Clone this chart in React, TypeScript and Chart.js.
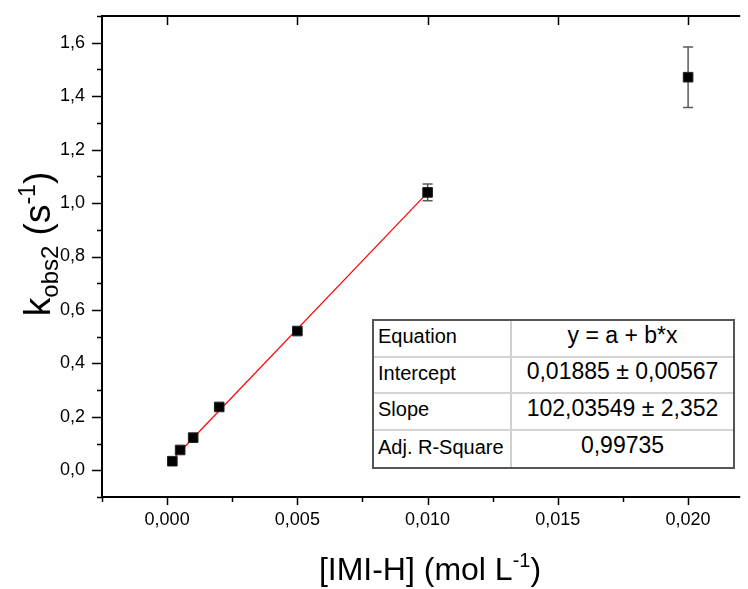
import React, { useEffect, useRef } from 'react';
import { Chart, registerables } from 'chart.js';

Chart.register(...registerables);

// ---- data ----
const concentrations = [0.0002, 0.0005, 0.001, 0.002, 0.005, 0.01, 0.02];
const kObs2 = [0.034, 0.076, 0.122, 0.237, 0.521, 1.04, 1.471];
const kObs2Err = [0, 0, 0, 0, 0, 0.031, 0.113];
const fitIntercept = 0.01885;
const fitSlope = 102.03549;
const fitRange = [0.0002, 0.01];

const xMajorTicks = [0, 0.005, 0.01, 0.015, 0.02];
const xMinorTicks = [-0.0025, 0.0025, 0.0075, 0.0125, 0.0175];
const yMajorTicks = [0, 0.2, 0.4, 0.6, 0.8, 1.0, 1.2, 1.4, 1.6];
const yMinorTicks = [-0.1, 0.1, 0.3, 0.5, 0.7, 0.9, 1.1, 1.3, 1.5, 1.7];

const tableLabels = ['Equation', 'Intercept', 'Slope', 'Adj. R-Square'];
const tableValues = ['y = a + b*x', '0,01885 ± 0,00567', '102,03549 ± 2,352', '0,99735'];

const FONT = "'Liberation Sans', Arial, sans-serif";

type Part = { text: string; size: number; dy: number };

function drawRich(ctx: CanvasRenderingContext2D, parts: Part[], cx: number, baseY: number) {
  let total = 0;
  const widths = parts.map((p) => {
    ctx.font = `${p.size}px ${FONT}`;
    const w = ctx.measureText(p.text).width;
    total += w;
    return w;
  });
  let x = cx - total / 2;
  ctx.textAlign = 'left';
  ctx.textBaseline = 'alphabetic';
  parts.forEach((p, i) => {
    ctx.font = `${p.size}px ${FONT}`;
    ctx.fillText(p.text, x, baseY + p.dy);
    x += widths[i];
  });
}

const framePlugin = {
  id: 'frame',
  beforeDatasetsDraw(chart: any) {
    const ctx = chart.ctx as CanvasRenderingContext2D;
    const xs = chart.scales.x;
    const ys = chart.scales.y;
    ctx.save();
    ctx.strokeStyle = '#5a5a5a';
    ctx.lineWidth = 1.5;
    concentrations.forEach((c, i) => {
      const e = kObs2Err[i];
      if (!e) return;
      const px = xs.getPixelForValue(c);
      const top = ys.getPixelForValue(kObs2[i] + e);
      const bot = ys.getPixelForValue(kObs2[i] - e);
      ctx.beginPath();
      ctx.moveTo(px, top);
      ctx.lineTo(px, bot);
      ctx.moveTo(px - 5, top);
      ctx.lineTo(px + 5, top);
      ctx.moveTo(px - 5, bot);
      ctx.lineTo(px + 5, bot);
      ctx.stroke();
    });
    ctx.restore();
  },
  afterDraw(chart: any) {
    const ctx = chart.ctx as CanvasRenderingContext2D;
    const { left, right, top, bottom } = chart.chartArea;
    const xs = chart.scales.x;
    const ys = chart.scales.y;
    ctx.save();
    ctx.strokeStyle = '#000';
    ctx.lineWidth = 2;
    ctx.lineCap = 'butt';
    // axis lines
    ctx.beginPath();
    ctx.moveTo(left, top - 1);
    ctx.lineTo(left, bottom + 1);
    ctx.moveTo(left - 1, bottom);
    ctx.lineTo(right, bottom);
    ctx.moveTo(left - 1, top);
    ctx.lineTo(right, top);
    ctx.stroke();
    ctx.lineWidth = 1.5;
    ctx.beginPath();
    // left ticks
    yMajorTicks.forEach((v) => {
      const py = Math.round(ys.getPixelForValue(v)) + 0.5;
      ctx.moveTo(left, py);
      ctx.lineTo(left - 10, py);
    });
    yMinorTicks.forEach((v) => {
      const py = Math.round(ys.getPixelForValue(v)) + 0.5;
      ctx.moveTo(left, py);
      ctx.lineTo(left - 5, py);
    });
    // bottom / top ticks
    xMajorTicks.forEach((v) => {
      const px = Math.round(xs.getPixelForValue(v)) + 0.5;
      ctx.moveTo(px, bottom);
      ctx.lineTo(px, bottom + 8);
      ctx.moveTo(px, top);
      ctx.lineTo(px, top + 9);
    });
    xMinorTicks.forEach((v) => {
      const px = Math.round(xs.getPixelForValue(v)) + 0.5;
      ctx.moveTo(px, bottom);
      ctx.lineTo(px, bottom + 5);
    });
    ctx.stroke();

    // titles
    ctx.fillStyle = '#000';
    drawRich(
      ctx,
      [
        { text: '[IMI-H] (mol L', size: 32, dy: 0 },
        { text: '-1', size: 20, dy: -13 },
        { text: ')', size: 32, dy: 0 },
      ],
      430,
      580
    );
    ctx.save();
    ctx.translate(50, 244);
    ctx.rotate(-Math.PI / 2);
    drawRich(
      ctx,
      [
        { text: 'k', size: 37, dy: 0 },
        { text: 'obs2', size: 24, dy: 8 },
        { text: ' (s', size: 37, dy: 0 },
        { text: '-1', size: 23, dy: -15 },
        { text: ')', size: 37, dy: 0 },
      ],
      0,
      0
    );
    ctx.restore();
    ctx.restore();
  },
};

const fmt = (v: number, d: number) => v.toFixed(d).replace('.', ',');

export default function App() {
  const canvasRef = useRef<HTMLCanvasElement | null>(null);

  useEffect(() => {
    const canvas = canvasRef.current;
    if (!canvas) return;
    const points = concentrations.map((c, i) => ({ x: c, y: kObs2[i] }));
    const fitLine = fitRange.map((x) => ({ x, y: fitIntercept + fitSlope * x }));
    const chart = new Chart(canvas, {
      type: 'scatter',
      data: {
        datasets: [
          {
            label: 'kobs2',
            data: points,
            pointStyle: 'rect',
            pointRadius: 6.8,
            pointBackgroundColor: '#000',
            pointBorderColor: '#222',
            pointBorderWidth: 1,
            showLine: false,
            order: 0,
          },
          {
            label: 'fit',
            type: 'line',
            data: fitLine,
            borderColor: '#ff0000',
            borderWidth: 1.2,
            pointRadius: 0,
            showLine: true,
            fill: false,
            order: 1,
          } as any,
        ],
      },
      options: {
        animation: false,
        responsive: false,
        maintainAspectRatio: false,
        layout: { padding: { top: 16, left: 0, right: 0, bottom: 0 } },
        plugins: { legend: { display: false }, tooltip: { enabled: false } },
        scales: {
          x: {
            type: 'linear',
            min: -0.0025,
            max: 0.022,
            grid: { display: false, drawTicks: false },
            border: { display: false },
            afterBuildTicks: (s: any) => {
              s.ticks = xMajorTicks.map((v) => ({ value: v }));
            },
            afterFit: (s: any) => {
              s.height = 92;
              s.paddingLeft = 0;
              s.paddingRight = 0;
            },
            ticks: {
              autoSkip: false,
              maxRotation: 0,
              padding: 12,
              color: '#000',
              font: { family: FONT, size: 18 },
              callback: (v: any) => fmt(Number(v), 3),
            },
          },
          y: {
            type: 'linear',
            min: -0.1,
            max: 1.7,
            grid: { display: false, drawTicks: false },
            border: { display: false },
            afterBuildTicks: (s: any) => {
              s.ticks = yMajorTicks.map((v) => ({ value: v }));
            },
            afterFit: (s: any) => {
              s.width = 102;
              s.paddingTop = 0;
              s.paddingBottom = 0;
            },
            ticks: {
              autoSkip: false,
              padding: 17,
              color: '#000',
              font: { family: FONT, size: 18 },
              callback: (v: any) => fmt(Number(v), 1),
            },
          },
        },
      },
      plugins: [framePlugin],
    });
    return () => chart.destroy();
  }, []);

  return (
    <div
      style={{
        position: 'fixed',
        left: 0,
        top: 0,
        width: 748,
        height: 589,
        overflow: 'hidden',
        background: '#fff',
      }}
    >
      <canvas ref={canvasRef} width={748} height={589} style={{ width: 748, height: 589, display: 'block' }} />
      <div
        style={{
          position: 'absolute',
          left: 372,
          top: 319,
          width: 363,
          height: 150,
          boxSizing: 'border-box',
          border: '2px solid #555',
          background: '#fff',
          display: 'grid',
          gridTemplateColumns: '138px 1fr',
          gridTemplateRows: 'repeat(4, 1fr)',
          fontFamily: FONT,
          fontSize: 20,
          color: '#000',
        }}
      >
        {tableLabels.map((lab, i) => (
          <React.Fragment key={lab}>
            <div
              style={{
                borderRight: '2px solid #cfcfcf',
                borderBottom: i < tableLabels.length - 1 ? '2px solid #d4d4d4' : 'none',
                paddingLeft: 4,
                paddingBottom: 3,
                display: 'flex',
                alignItems: 'center',
                whiteSpace: 'nowrap',
              }}
            >
              {lab}
            </div>
            <div
              style={{
                borderBottom: i < tableLabels.length - 1 ? '2px solid #d4d4d4' : 'none',
                paddingBottom: 6,
                display: 'flex',
                alignItems: 'center',
                justifyContent: 'center',
                whiteSpace: 'nowrap',
                fontSize: 23,
              }}
            >
              {tableValues[i]}
            </div>
          </React.Fragment>
        ))}
      </div>
    </div>
  );
}
